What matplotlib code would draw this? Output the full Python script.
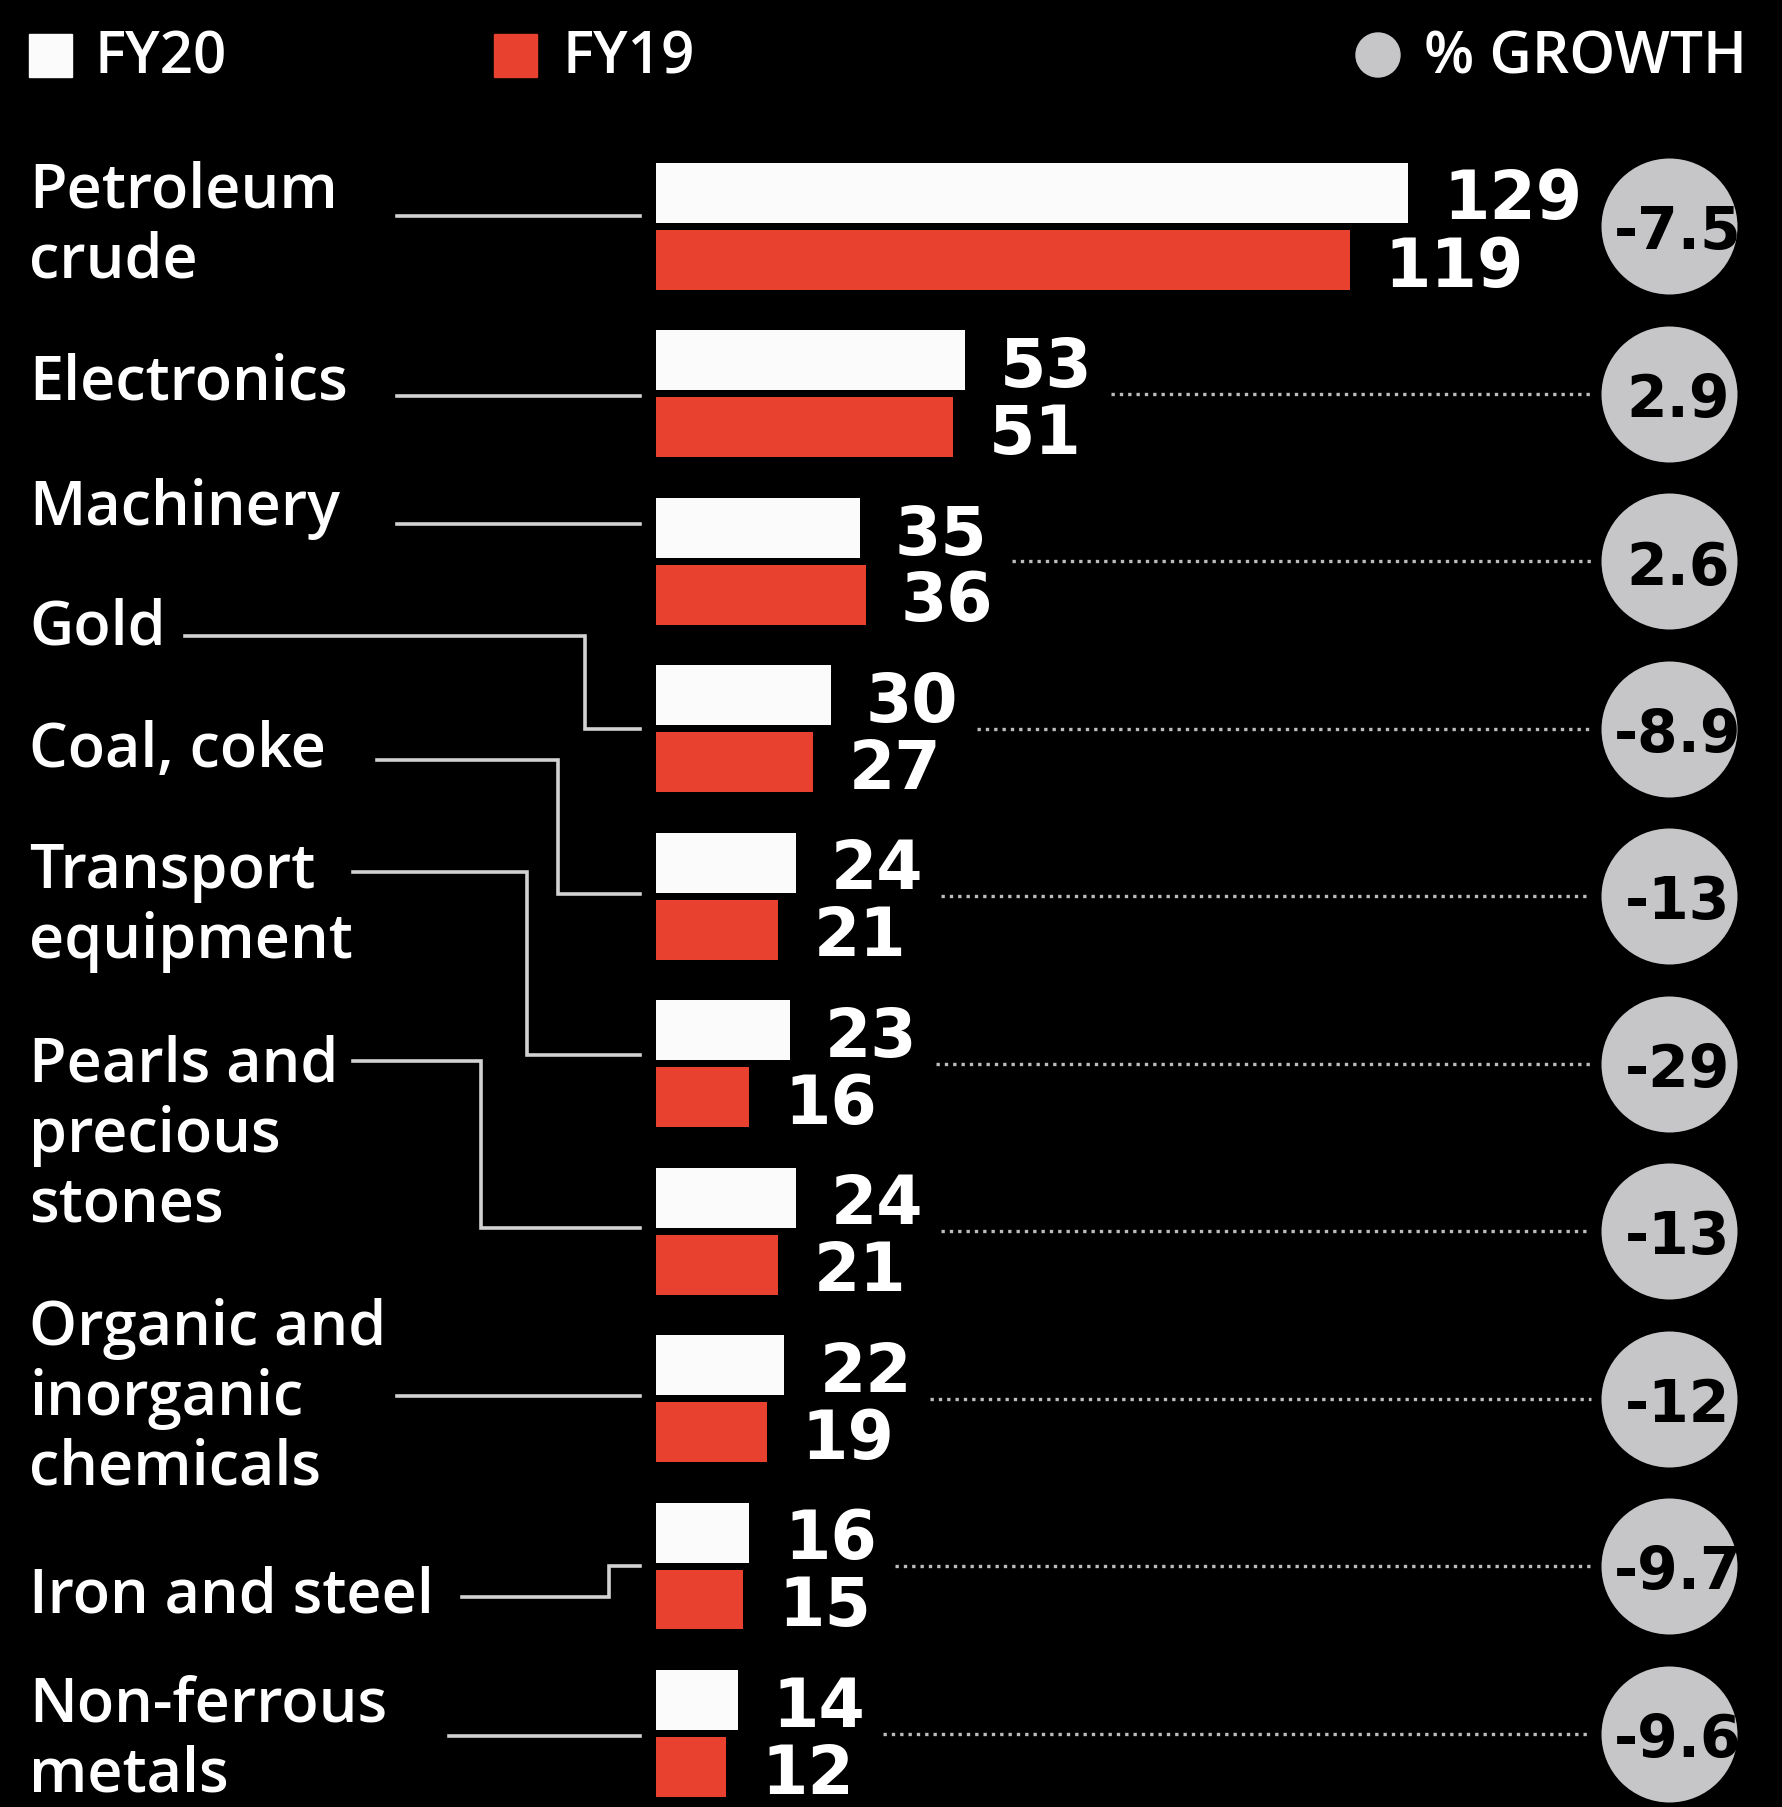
"""
Top import items FY20 vs FY19 with % growth, black infographic style.
"""

import matplotlib

matplotlib.use("Agg")
import matplotlib.pyplot as plt
from matplotlib.patches import Rectangle, Circle

# ---- data ---------------------------------------------------------------
CATEGORIES = [
    "Petroleum\ncrude",
    "Electronics",
    "Machinery",
    "Gold",
    "Coal, coke",
    "Transport\nequipment",
    "Pearls and\nprecious\nstones",
    "Organic and\ninorganic\nchemicals",
    "Iron and steel",
    "Non-ferrous\nmetals",
]
FY20 = [129, 53, 35, 30, 24, 23, 24, 22, 16, 14]
FY19 = [119, 51, 36, 27, 21, 16, 21, 19, 15, 12]
GROWTH = ["-7.5", "2.9", "2.6", "-8.9", "-13", "-29", "-13", "-12", "-9.7", "-9.6"]

# ---- layout (pixels of the 1782x1808 canvas) ----------------------------
W, H = 1782, 1808
X0_PX = 656          # where value 0 sits
PX_PER_UNIT = 5.83
Y0_PX = 227          # centre of first group
ROW_PX = 167.5
BAR_H = 60 / ROW_PX
BAR_OFF = 33.5 / ROW_PX
CIRCLE_X_PX = 1669
CIRCLE_R_PX = 68

# first-line baselines for the category labels
LABEL_BASE = [208, 400, 525, 645, 767, 888, 1082, 1345, 1613, 1722]
LINE_STEP = 70
# connector paths: (start x, start y, elbow x or None, end y); end at bar group
CONNECTORS = [
    (397, 217, None, 217),
    (397, 397, None, 397),
    (397, 525, None, 525),
    (185, 637, 585, 730),
    (377, 761, 558, 895),
    (353, 873, 527, 1056),
    (353, 1062, 481, 1229),
    (397, 1397, None, 1397),
    (462, 1598, 609, 1567),
    (449, 1737, None, 1737),
]
CONN_END_X = 640

WHITE = "#fbfbfb"
RED = "#e8412f"
GREY = "#c6c6c8"
LINE = "#d2d2d2"

VALUE_FONT = dict(family="DejaVu Sans", fontsize=48, fontweight="bold", color="white")
LABEL_FONT = dict(family="Open Sans", fontsize=44, fontweight="semibold", color="white")

fig = plt.figure(figsize=(W / 100, H / 100), dpi=100, facecolor="black")

# main axes: x in value units, y in category index
ax = fig.add_axes([0, 0, 1, 1])
ax.set_facecolor("black")
ax.set_xlim(-X0_PX / PX_PER_UNIT, (W - X0_PX) / PX_PER_UNIT)
ax.set_ylim((H - Y0_PX) / ROW_PX, -Y0_PX / ROW_PX)
ax.axis("off")

idx = list(range(len(CATEGORIES)))
ax.barh([i - BAR_OFF for i in idx], FY20, height=BAR_H, color=WHITE, zorder=3)
ax.barh([i + BAR_OFF for i in idx], FY19, height=BAR_H, color=RED, zorder=3)

gap = 35 / PX_PER_UNIT
value_texts = []
for i, (a, b) in enumerate(zip(FY20, FY19)):
    t1 = ax.text(a + gap, i - BAR_OFF, str(a), ha="left", va="center_baseline", **VALUE_FONT)
    t2 = ax.text(b + gap, i + BAR_OFF, str(b), ha="left", va="center_baseline", **VALUE_FONT)
    value_texts.append((t1, t2))

circle_x = (CIRCLE_X_PX - X0_PX) / PX_PER_UNIT
size_pt = 2 * CIRCLE_R_PX * 72 / 100
ax.scatter([circle_x] * len(idx), idx, s=size_pt ** 2, color=GREY, zorder=4, linewidths=0)
for i, g in enumerate(GROWTH):
    ax.text(circle_x + 9 / PX_PER_UNIT, i, g, ha="center", va="center_baseline",
            family="DejaVu Sans", fontsize=42, fontweight="bold", color="black", zorder=5)

# dotted leader lines from value labels to the circles
fig.canvas.draw()
renderer = fig.canvas.get_renderer()
inv = ax.transData.inverted()
circle_left = (CIRCLE_X_PX - CIRCLE_R_PX - 10 - X0_PX) / PX_PER_UNIT
for i, (t1, t2) in enumerate(value_texts):
    right_px = max(t1.get_window_extent(renderer).x1, t2.get_window_extent(renderer).x1)
    start = inv.transform((right_px + 18, 0))[0]
    if start < circle_left:
        ax.plot([start, circle_left], [i, i], color="#bdbdbd", lw=2.4,
                linestyle=(0, (1, 1.5)), dash_capstyle="butt", zorder=2)

# overlay in pixel coordinates for labels, connectors and legend
lay = fig.add_axes([0, 0, 1, 1])
lay.set_xlim(0, W)
lay.set_ylim(H, 0)
lay.axis("off")
lay.patch.set_alpha(0)

for name, base in zip(CATEGORIES, LABEL_BASE):
    for k, line in enumerate(name.split("\n")):
        lay.text(29, base + k * LINE_STEP, line, ha="left", va="baseline", **LABEL_FONT)

for x_start, y_start, x_elbow, y_end in CONNECTORS:
    if x_elbow is None:
        xs, ys = [x_start, CONN_END_X], [y_start, y_end]
    else:
        xs = [x_start, x_elbow, x_elbow, CONN_END_X]
        ys = [y_start, y_start, y_end, y_end]
    lay.plot(xs, ys, color=LINE, lw=2.6, solid_joinstyle="miter")

# legend
legend_font = dict(ha="left", va="center_baseline", family="Open Sans",
                   fontweight="semibold", fontsize=42, color="white")
lay.add_patch(Rectangle((29, 35), 43, 43, color=WHITE))
lay.text(95, 52, "FY20", **legend_font)
lay.add_patch(Rectangle((494, 35), 43, 43, color=RED))
lay.text(562, 52, "FY19", **legend_font)
lay.add_patch(Circle((1378, 56), 22, color=GREY))
lay.text(1424, 52, "% GROWTH", **legend_font)

fig.savefig("out.png", dpi=100, facecolor="black")
